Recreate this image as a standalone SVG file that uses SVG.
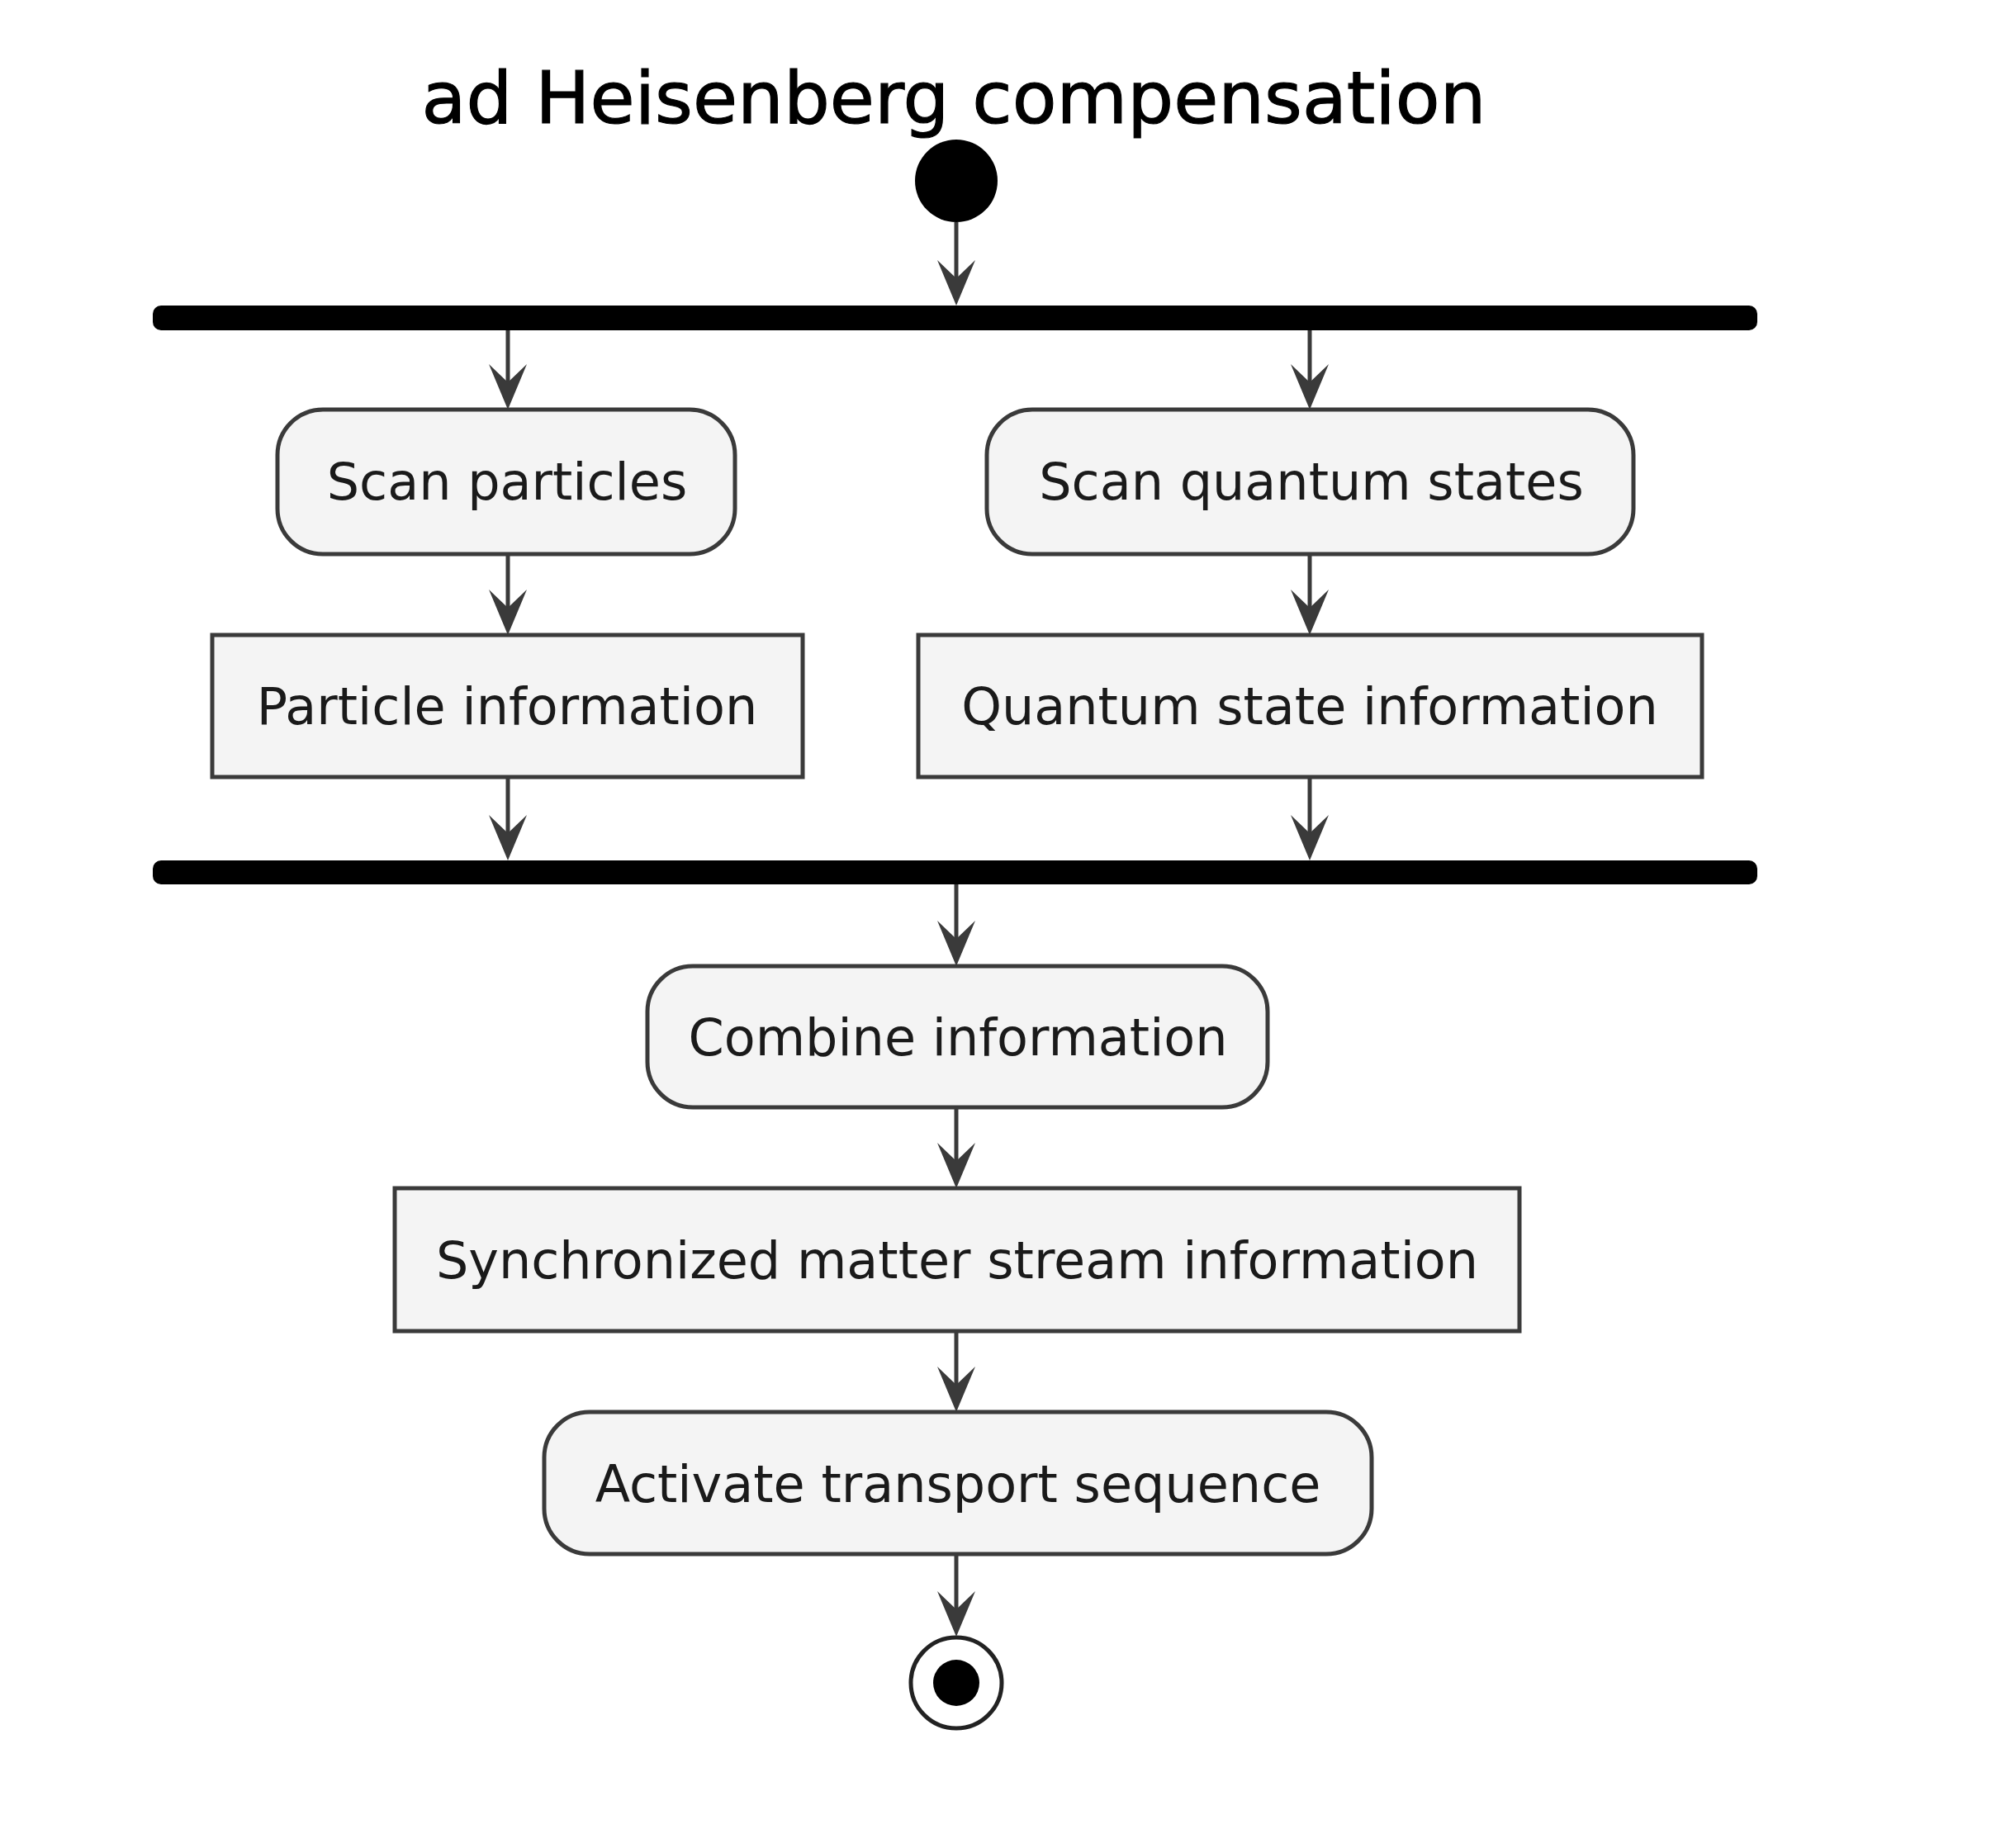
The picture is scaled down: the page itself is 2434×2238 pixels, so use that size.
<svg xmlns="http://www.w3.org/2000/svg" width="2434" height="2238" viewBox="0 0 2434 2238">
<style>
.t{font-family:"DejaVu Sans","Liberation Sans",sans-serif;fill:#1a1a1a}
.lbl{font-size:62px;text-anchor:middle}
.box{fill:#F4F4F4;stroke:#3a3a3a;stroke-width:5}
.bar{fill:#000}
.ln{stroke:#3a3a3a;stroke-width:5;fill:none}
.ah{fill:#3a3a3a}
</style>
<defs>
<path id="arrowhead" class="ah" d="M0,0 L-23,-55 L0,-33 L23,-55 Z"/>
</defs>
<rect width="2434" height="2238" fill="#fff"/>
<text class="t" x="1155" y="149" font-size="88" text-anchor="middle" style="fill:#000;stroke:#000;stroke-width:1.2">ad Heisenberg compensation</text>

<g id="start"><circle cx="1158" cy="219" r="50" fill="#000"/></g>
<g id="fork"><rect class="bar" x="185" y="370" width="1943" height="30" rx="10"/></g>
<g id="scan_particles"><rect class="box" x="336" y="496" width="554" height="175" rx="55"/><text class="t lbl" x="614" y="605">Scan particles</text></g>
<g id="scan_quantum"><rect class="box" x="1195" y="496" width="783" height="175" rx="55"/><text class="t lbl" x="1588" y="605">Scan quantum states</text></g>
<g id="particle_info"><rect class="box" x="257" y="769" width="715" height="172"/><text class="t lbl" x="614" y="877">Particle information</text></g>
<g id="quantum_info"><rect class="box" x="1112" y="769" width="949" height="172"/><text class="t lbl" x="1586" y="877">Quantum state information</text></g>
<g id="join"><rect class="bar" x="185" y="1042" width="1943" height="29" rx="10"/></g>
<g id="combine"><rect class="box" x="784" y="1170" width="751" height="171" rx="55"/><text class="t lbl" x="1160" y="1278">Combine information</text></g>
<g id="sync"><rect class="box" x="478" y="1439" width="1362" height="173"/><text class="t lbl" x="1159" y="1548">Synchronized matter stream information</text></g>
<g id="activate"><rect class="box" x="659" y="1710" width="1002" height="172" rx="55"/><text class="t lbl" x="1160" y="1819">Activate transport sequence</text></g>
<g id="end"><circle cx="1158" cy="2038" r="55" fill="#fff" stroke="#222" stroke-width="5"/><circle cx="1158" cy="2038" r="28" fill="#000"/></g>

<g id="connectors">
<line class="ln" x1="1158" y1="269" x2="1158" y2="350"/><use href="#arrowhead" x="1158" y="370"/>
<line class="ln" x1="615" y1="400" x2="615" y2="476"/><use href="#arrowhead" x="615" y="496"/>
<line class="ln" x1="1586" y1="400" x2="1586" y2="476"/><use href="#arrowhead" x="1586" y="496"/>
<line class="ln" x1="615" y1="671" x2="615" y2="749"/><use href="#arrowhead" x="615" y="769"/>
<line class="ln" x1="1586" y1="671" x2="1586" y2="749"/><use href="#arrowhead" x="1586" y="769"/>
<line class="ln" x1="615" y1="941" x2="615" y2="1022"/><use href="#arrowhead" x="615" y="1042"/>
<line class="ln" x1="1586" y1="941" x2="1586" y2="1022"/><use href="#arrowhead" x="1586" y="1042"/>
<line class="ln" x1="1158" y1="1071" x2="1158" y2="1150"/><use href="#arrowhead" x="1158" y="1170"/>
<line class="ln" x1="1158" y1="1341" x2="1158" y2="1419"/><use href="#arrowhead" x="1158" y="1439"/>
<line class="ln" x1="1158" y1="1612" x2="1158" y2="1690"/><use href="#arrowhead" x="1158" y="1710"/>
<line class="ln" x1="1158" y1="1882" x2="1158" y2="1962"/><use href="#arrowhead" x="1158" y="1982"/>
</g>
</svg>
